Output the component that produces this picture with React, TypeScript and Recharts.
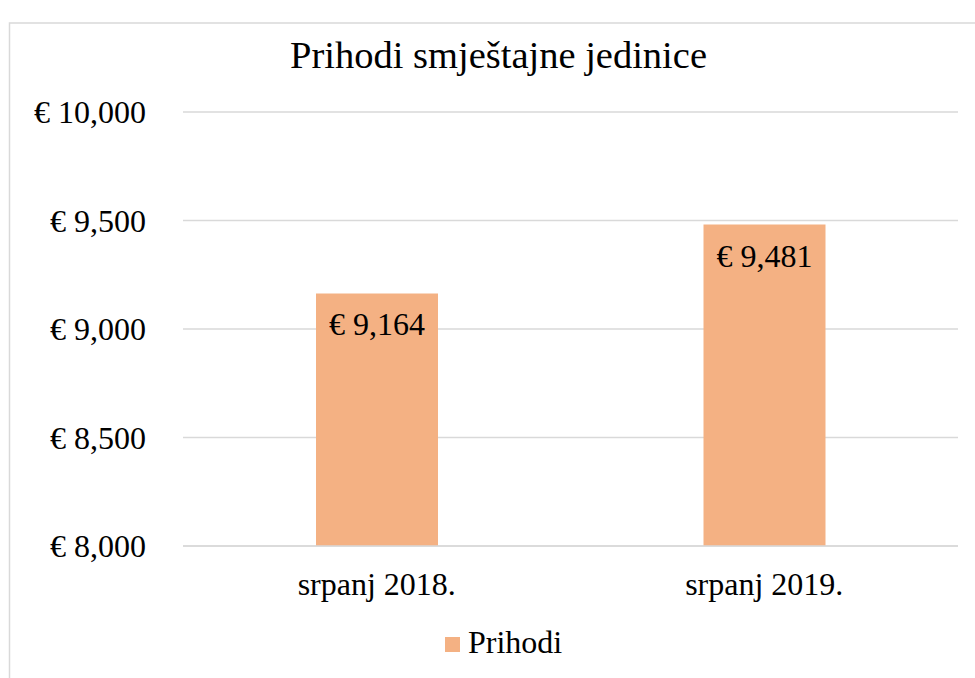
import React from 'react';
import { BarChart, Bar, XAxis, YAxis, CartesianGrid, LabelList } from 'recharts';

// ─── Data ─────────────────────────────────────────────────────────────────────

const categories = ['srpanj 2018.', 'srpanj 2019.'];
const prihodi = [9164, 9481];
const yTicks = [8000, 8500, 9000, 9500, 10000];

const seriesName = 'Prihodi';
const title = 'Prihodi smještajne jedinice';

const rows = categories.map((name, i) => ({ name, prihodi: prihodi[i] }));

// ─── Style ────────────────────────────────────────────────────────────────────

const FONT = "'Liberation Serif', 'Times New Roman', serif";
const BAR = '#F4B183';
const GRID = '#d9d9d9';
const FS = 32;

const fmtEuro = (v: number) => `€ ${v.toLocaleString('en-US')}`;

function BarLabel(props: any) {
  const { x, y, width, value } = props;
  return (
    <text
      x={x + width / 2}
      y={y + 42}
      textAnchor="middle"
      fontSize={FS}
      fontFamily={FONT}
      fill="#000"
    >
      {fmtEuro(value)}
    </text>
  );
}

export default function App() {
  return (
    <div style={{ position: 'absolute', left: 0, top: 0, width: 975, height: 678, background: '#fff' }}>
      <BarChart
        width={975}
        height={678}
        data={rows}
        margin={{ top: 112, right: 17, bottom: 102, left: 0 }}
        style={{ fontFamily: FONT }}
      >
        <CartesianGrid vertical={false} stroke={GRID} strokeWidth={1.5} />
        <XAxis
          dataKey="name"
          height={30}
          tickSize={0}
          tickMargin={26}
          axisLine={{ stroke: GRID, strokeWidth: 1.5 }}
          tickLine={false}
          tick={{ fontSize: FS, fill: '#000', fontFamily: FONT }}
        />
        <YAxis
          width={183}
          domain={[8000, 10000]}
          ticks={yTicks}
          tickFormatter={fmtEuro}
          tickSize={0}
          tickMargin={37}
          axisLine={false}
          tickLine={false}
          tick={{ fontSize: FS, fill: '#000', fontFamily: FONT }}
        />
        <Bar dataKey="prihodi" name={seriesName} fill={BAR} barSize={122} isAnimationActive={false}>
          <LabelList dataKey="prihodi" content={<BarLabel />} />
        </Bar>
      </BarChart>

      {/* Chart frame, title and legend */}
      <svg
        width={975}
        height={678}
        style={{ position: 'absolute', left: 0, top: 0, pointerEvents: 'none' }}
      >
        <rect x={9.5} y={23} width={1100} height={800} fill="none" stroke={GRID} strokeWidth={1.5} />
        <text x={498.5} y={68} textAnchor="middle" fontSize={38.5} fontFamily={FONT} fill="#000">
          {title}
        </text>
        <rect x={445} y={637} width={15} height={15} fill={BAR} />
        <text x={468} y={653} fontSize={FS} fontFamily={FONT} fill="#000">
          {seriesName}
        </text>
      </svg>
    </div>
  );
}
